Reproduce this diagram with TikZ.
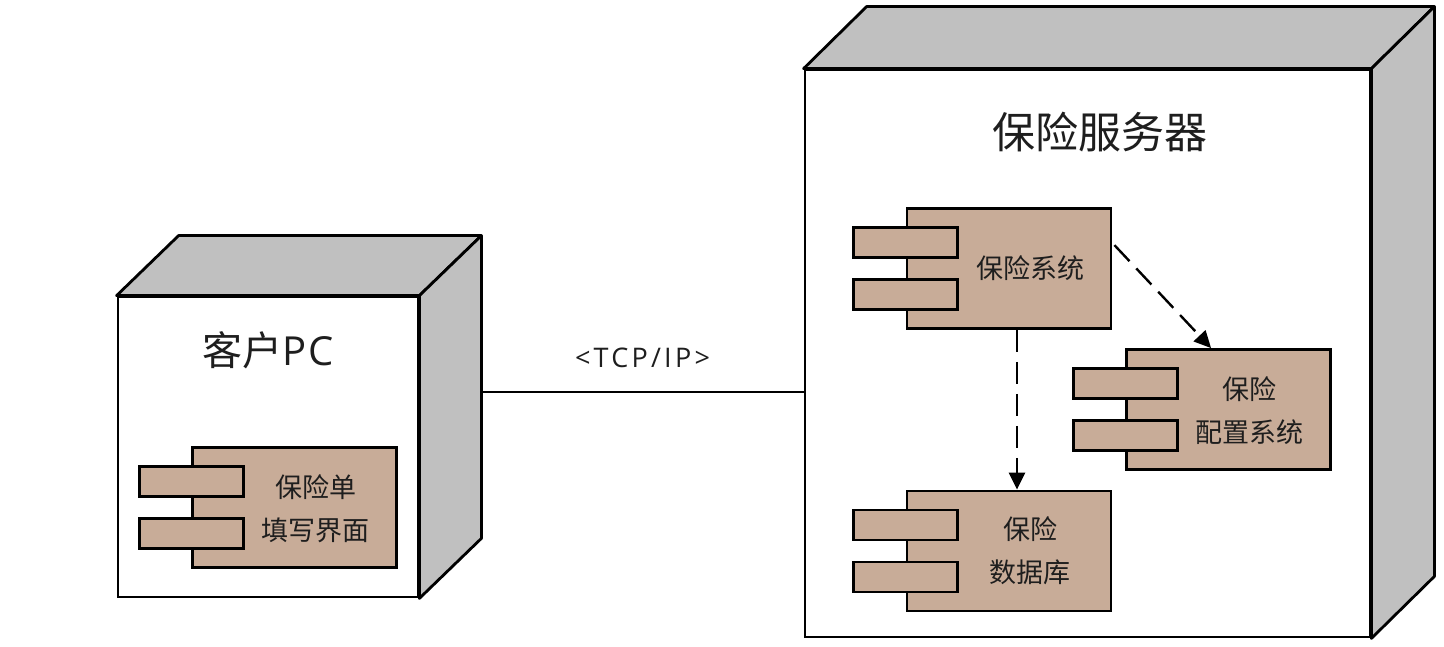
\documentclass[tikz,border=0pt]{standalone}
\usepackage{fontspec}
\setmainfont{Noto Sans CJK SC}
\newfontfamily\latin{Open Sans}
\usetikzlibrary{arrows.meta, positioning, calc}
\definecolor{compfill}{RGB}{200,172,152}
\definecolor{sidegray}{RGB}{192,192,192}
\definecolor{inktext}{RGB}{30,30,30}

\tikzset{
  face/.style={draw, line width=2.8pt, fill=white, inner sep=0pt},
  shade3d/.style={draw, line width=2.8pt, fill=sidegray, line join=round},
  comp/.style={draw, line width=2.8pt, fill=compfill, minimum width=204pt, minimum height=120pt, inner sep=0pt},
  tab/.style={draw, line width=2.8pt, fill=compfill, minimum width=104pt, minimum height=30pt, inner sep=0pt},
  comptext/.style={text=inktext, font=\fontsize{27}{43}\selectfont, align=center, inner sep=0pt},
  nodetitle/.style={text=inktext, inner sep=0pt},
  dep/.style={line width=2.4pt, dash pattern=on 22pt off 10pt, -{Triangle[length=17pt, width=16pt]}}
}

\begin{document}
\begin{tikzpicture}[x=1pt, y=-1pt]
  \useasboundingbox (0,0) rectangle (1444,647);

  % client node
  \node[face, minimum width=300pt, minimum height=300pt] (pc) at (268,447) {};
  \coordinate (pc-back) at ($(pc.north east)+(62,-60)$);
  \draw[shade3d] (pc.north west) -- ++(62,-60) -- (pc-back) -- (pc.north east) -- cycle;
  \draw[shade3d] (pc.north east) -- (pc-back) -- ($(pc.south east)+(62,-60)$) -- (pc.south east) -- cycle;
  \node[nodetitle, font=\fontsize{40}{42}\selectfont] (pc-title) at ($(pc.north)+(0,55)$) {客户{\latin\addfontfeature{LetterSpace=5}PC}};

  % server node
  \node[face, minimum width=565pt, minimum height=567pt] (srv) at (1087.5,353.5) {};
  \draw[shade3d] (srv.north west) -- ++(63,-62) -- ($(srv.north east)+(63,-62)$) -- (srv.north east) -- cycle;
  \draw[shade3d] (srv.north east) -- ++(63,-62) -- ($(srv.south east)+(63,-62)$) -- (srv.south east) -- cycle;
  \node[nodetitle, font=\fontsize{43}{46}\selectfont] (srv-title) at ($(srv.north)+(12,63)$) {保险服务器};

  % components
  \node[comp] (form) at (294.5,507.5) {};
  \node[comp] (sys) at (1009,268.5) {};
  \node[comp] (cfg) at (1228.5,409.5) {};
  \node[comp] (db) at (1009,551) {};
  \foreach \c in {form, sys, cfg, db} {
    \node[tab] (\c-t1) at ($(\c.west)+(0,-26)$) {};
    \node[tab] (\c-t2) at ($(\c.west)+(0,26)$) {};
  }
  \node[comptext] (form-l) at ($(form.center)+(21,1)$) {保险单\\填写界面};
  \node[comptext] (sys-l) at ($(sys.center)+(21,0)$) {保险系统};
  \node[comptext] (cfg-l) at ($(cfg.center)+(21,1)$) {保险\\配置系统};
  \node[comptext] (db-l) at ($(db.center)+(21,0)$) {保险\\数据库};

  % connectors
  \draw[line width=2.4pt] (pc-back |- 0,392) -- (srv.west |- 0,392)
    node[midway, above=20pt, text=inktext, font=\latin\fontsize{27}{30}\selectfont\addfontfeature{LetterSpace=12}] (tcp) {<TCP/IP>};
  \draw[dep] ($(sys.south)+(8,0)$) -- ($(db.north)+(8,0)$);
  \draw[dep] ($(sys.north east)+(2,38)$) -- ($(cfg.north west)+(86,0)$);
\end{tikzpicture}
\end{document}
